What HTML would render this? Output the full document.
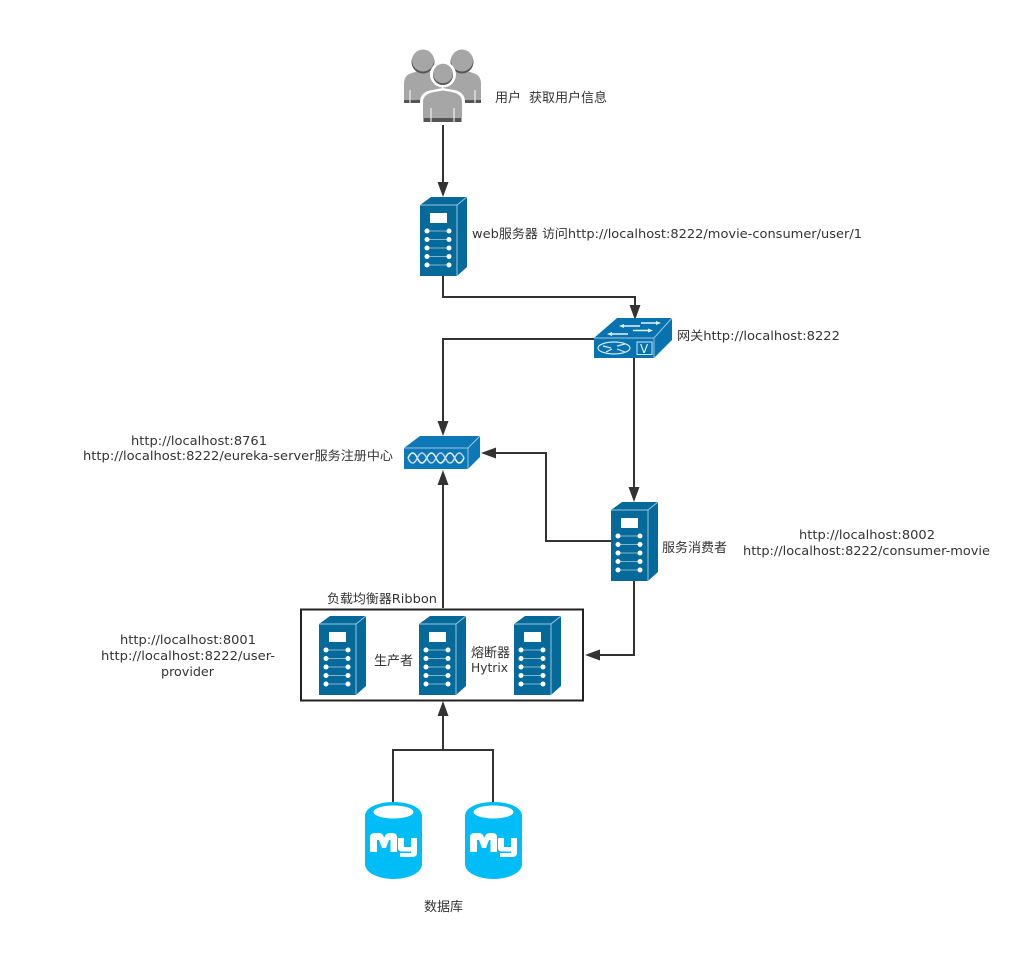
<!DOCTYPE html>
<html><head><meta charset="utf-8"><style>
html,body{margin:0;padding:0;background:#fff}
svg{display:block}
text{font-family:"DejaVu Sans","Noto Sans CJK SC",sans-serif;font-size:12.500px;fill:#333}
.z{font-size:13px}
.c{fill:none;stroke:#333;stroke-width:2}
.a{fill:#333}
.e{fill:none;stroke:#9cc6dc;stroke-width:1}
</style></head><body>
<svg width="1024" height="956" viewBox="0 0 1024 956" xmlns="http://www.w3.org/2000/svg">
<defs>
<g id="srv">
<polygon points="0,8 11,0 47,0 37,8" fill="#056a9a"/>
<polygon points="37,8 47,0 47,70 37,79" fill="#056a9a"/>
<rect x="0" y="8" width="37" height="71" fill="#056a9a"/>
<path class="e" d="M0 8H37L47 0M37 8V79"/>
<rect x="10" y="16" width="17" height="10" fill="#fff"/>
<g stroke="#7fb5cf" stroke-width="1"><path d="M7 34H29M7 42.500H29M7 51H29M7 59.500H29M7 68H29"/></g>
<g fill="#fff"><circle cx="7" cy="34" r="2.500"/><circle cx="29" cy="34" r="2.500"/><circle cx="7" cy="42.500" r="2.500"/><circle cx="29" cy="42.500" r="2.500"/><circle cx="7" cy="51" r="2.500"/><circle cx="29" cy="51" r="2.500"/><circle cx="7" cy="59.500" r="2.500"/><circle cx="29" cy="59.500" r="2.500"/><circle cx="7" cy="68" r="2.500"/><circle cx="29" cy="68" r="2.500"/></g>
</g>
<g id="db">
<path d="M0 14C0 5 14 0 28.500 0S57 5 57 14V62C57 71 43 77 28.500 77S0 71 0 62Z" fill="#00bdf7"/>
<ellipse cx="28.500" cy="10" rx="20" ry="6.500" fill="#fff"/>
<path d="M5 50V35Q5 31 10 31H14Q17 31 18.500 34L19 36L20 34Q21.500 31 25 31H27Q32 31 32 35V50H25.500V38H24L21 46H17L14 38H12V50Z" fill="#fff"/>
<path d="M33 36H39V45H46V36H52V51Q52 55 47 55H35V51H46V49.500H37Q33 49.500 33 46Z" fill="#fff"/>
</g>
<g id="per">
<path d="M0 34Q0 25 8 23L14 21Q19 25 24 21L30 23Q38 25 38 34V53H0Z" fill="#a6a6a6"/>
<rect x="0" y="50" width="38" height="3" fill="#555"/>
<path d="M6 40V53M32 40V53" stroke="#fff" stroke-width="1"/>
<circle cx="19" cy="12" r="11.500" fill="#555"/>
<circle cx="19" cy="10.500" r="11" fill="#a6a6a6"/>
</g>
</defs>

<!-- people -->
<use href="#per" x="404" y="50"/>
<use href="#per" x="443" y="50"/>
<path d="M420 124V102Q420 92 432 90L443 88L454 90Q465 92 465 102V124Z" fill="#fff"/>
<circle cx="443" cy="74.500" r="13" fill="#fff"/>
<path d="M423 102Q423 94 434 92L443 90.500L452 92Q462 94 462 102V122H423Z" fill="#a6a6a6"/>
<rect x="424" y="118" width="37" height="4" fill="#555"/>
<path d="M431 108V122M454 108V122" stroke="#fff" stroke-width="1"/>
<circle cx="443" cy="75" r="10" fill="#555"/>
<circle cx="443" cy="73.500" r="9.800" fill="#a6a6a6"/>

<!-- connectors -->
<path class="c" d="M443 125V185"/><polygon class="a" points="437.500,182 448.500,182 443,197"/>
<path class="c" d="M443 275V297H635V308"/><polygon class="a" points="629.500,305 640.500,305 635,320"/>
<path class="c" d="M594 339H443V425"/><polygon class="a" points="437.500,421 448.500,421 443,436"/>
<path class="c" d="M634 358V490"/><polygon class="a" points="628.500,487 639.500,487 634,502"/>
<path class="c" d="M611 541H546V453H494"/><polygon class="a" points="496,447.500 496,458.500 481,453"/>
<path class="c" d="M443 608V482"/><polygon class="a" points="437.500,485 448.500,485 443,470"/>
<path class="c" d="M634 581V655H598"/><polygon class="a" points="600,649.500 600,660.500 585,655"/>
<path class="c" d="M393 802V750H493V802M443 750V713"/><polygon class="a" points="437.500,716 448.500,716 443,701"/>

<!-- web server -->
<use href="#srv" x="420" y="197"/>

<!-- gateway switch -->
<polygon points="594,338 617,318 672,318 672,340 654,358 594,358" fill="#0772b0"/>
<path class="e" d="M594 338H654L672 318M654 338V358"/>
<g stroke="#e6f2f9" stroke-width="1.500" fill="#e6f2f9">
<path d="M623 326H640M641 323H657M611 334H628M633 330.500H649" fill="none"/>
<polygon points="619,326 624,324 624,328" stroke="none"/>
<polygon points="661,323 656,321 656,325" stroke="none"/>
<polygon points="607,334 612,332 612,336" stroke="none"/>
<polygon points="653,330.500 648,328.500 648,332.500" stroke="none"/>
</g>
<g stroke="#d8e8f2" stroke-width="1.200" fill="none">
<ellipse cx="614" cy="348" rx="16" ry="6"/>
<path d="M603 346L611 348M617 346L625 344M606 352L612 349M617 349L625 352"/>
</g>
<rect x="637" y="342" width="15" height="12.500" fill="none" stroke="#cfe6f4" stroke-width="1"/>
<text x="640" y="353" style="font-size:12px;fill:#e6f2f9">V</text>

<!-- hub -->
<polygon points="404,448 420,436 480,436 480,457 468,469 404,469" fill="#0c78b8"/>
<path class="e" d="M404 448H468L480 436M468 448V469"/>
<g fill="none" stroke-width="1.500">
<path stroke="#eef5f9" d="M408 458Q412.700 448 417.300 458T426.700 458T436 458T445.300 458T454.700 458T464 458"/>
<path stroke="#c4d6e2" d="M408 458Q412.700 468 417.300 458T426.700 458T436 458T445.300 458T454.700 458T464 458"/>
</g>

<!-- consumer server -->
<use href="#srv" x="611" y="502"/>

<!-- ribbon box -->
<rect x="301" y="609.500" width="282" height="91" fill="#fff" stroke="#222" stroke-width="2"/>
<use href="#srv" x="319" y="616"/>
<use href="#srv" x="419" y="616"/>
<use href="#srv" x="514" y="616"/>

<!-- databases -->
<use href="#db" x="365" y="802"/>
<use href="#db" x="465" y="802"/>

<!-- labels -->
<text class="z" x="495" y="102">用户</text>
<text class="z" x="529" y="102">获取用户信息</text>
<text x="472" y="238" textLength="390" lengthAdjust="spacingAndGlyphs">web服务器 访问http://localhost:8222/movie-consumer/user/1</text>
<text x="677" y="340" textLength="163" lengthAdjust="spacingAndGlyphs">网关http://localhost:8222</text>
<text x="131" y="445" textLength="136" lengthAdjust="spacingAndGlyphs">http://localhost:8761</text>
<text x="83" y="460" textLength="310" lengthAdjust="spacingAndGlyphs">http://localhost:8222/eureka-server服务注册中心</text>
<text class="z" x="662" y="552">服务消费者</text>
<text x="799" y="539" textLength="136" lengthAdjust="spacingAndGlyphs">http://localhost:8002</text>
<text x="743" y="555" textLength="247" lengthAdjust="spacingAndGlyphs">http://localhost:8222/consumer-movie</text>
<text x="327" y="603" textLength="110" lengthAdjust="spacingAndGlyphs">负载均衡器Ribbon</text>
<text x="120" y="644" textLength="136" lengthAdjust="spacingAndGlyphs">http://localhost:8001</text>
<text x="101" y="660" textLength="174" lengthAdjust="spacingAndGlyphs">http://localhost:8222/user-</text>
<text x="161" y="676" textLength="53" lengthAdjust="spacingAndGlyphs">provider</text>
<text class="z" x="374" y="665">生产者</text>
<text class="z" x="471" y="657">熔断器</text>
<text x="471" y="672" textLength="37" lengthAdjust="spacingAndGlyphs">Hytrix</text>
<text class="z" x="424" y="911">数据库</text>
</svg>
</body></html>
